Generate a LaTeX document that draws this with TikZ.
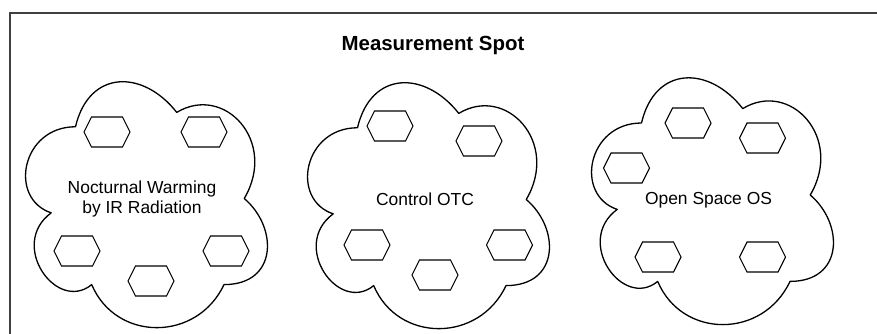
\documentclass[tikz,border=0pt]{standalone}
\usepackage{fontspec}
\setmainfont{Liberation Sans}
\tikzset{
  frameline/.style={draw=black!75, line width=1.5bp},
  cloudline/.style={draw=black, line width=1.3bp, line join=round},
  hexline/.style={draw=black, line width=1.1bp, line join=miter},
  label/.style={inner sep=0pt, font=\fontsize{17.5}{20.5}\selectfont, align=center},
  titlelabel/.style={inner sep=0pt, font=\fontsize{20.5}{24}\selectfont\bfseries},
  pics/mxcloud/.style={code={
    \draw[cloudline] (0.25,0.25) .. controls (0.05,0.25) and (0,0.5) .. (0.16,0.55)
      .. controls (0,0.66) and (0.18,0.9) .. (0.31,0.8)
      .. controls (0.4,1) and (0.7,1) .. (0.8,0.8)
      .. controls (1,0.8) and (1,0.6) .. (0.875,0.5)
      .. controls (1,0.3) and (0.8,0.1) .. (0.625,0.2)
      .. controls (0.5,0.05) and (0.3,0.05) .. (0.25,0.25) -- cycle;
  }},
  pics/hexa/.style={code={
    \draw[hexline] (-23,0) -- (-15.5,-15) -- (15.5,-15) -- (23,0) -- (15.5,15) -- (-15.5,15) -- cycle;
  }}
}
\begin{document}
\begin{tikzpicture}[x=1bp,y=-1bp]
\useasboundingbox (0,0) rectangle (877,333);
\begin{scope}
  \clip (0,0) rectangle (877,333);
  \draw[frameline] (10,13) rectangle (900,360);
\end{scope}

\node[titlelabel, anchor=base] (title) at (433,50) {Measurement Spot};

% cloud 1
\pic[xscale=270, yscale=287] (c1) at (8,55) {mxcloud};
\node[label, anchor=center] (t1) at (142,199) {Nocturnal Warming\\by IR Radiation};
\pic (h11) at (107,132) {hexa};
\pic (h12) at (204,132) {hexa};
\pic (h13) at (77,251) {hexa};
\pic (h14) at (226,251) {hexa};
\pic (h15) at (151,281) {hexa};

% cloud 2
\pic[xscale=270, yscale=287] (c2) at (290,56) {mxcloud};
\node[label, anchor=base] (t2) at (425,205) {Control OTC};
\pic (h21) at (390,126) {hexa};
\pic (h22) at (479,141) {hexa};
\pic (h23) at (367,245) {hexa};
\pic (h24) at (509.5,245) {hexa};
\pic (h25) at (435,275) {hexa};

% cloud 3
\pic[xscale=270, yscale=288] (c3) at (574,51) {mxcloud};
\node[label, anchor=base] (t3) at (708.5,204) {Open Space OS};
\pic (h31) at (688,123) {hexa};
\pic (h32) at (762.5,138) {hexa};
\pic (h33) at (626.5,168) {hexa};
\pic (h34) at (658,257) {hexa};
\pic (h35) at (762.5,257) {hexa};
\end{tikzpicture}
\end{document}
